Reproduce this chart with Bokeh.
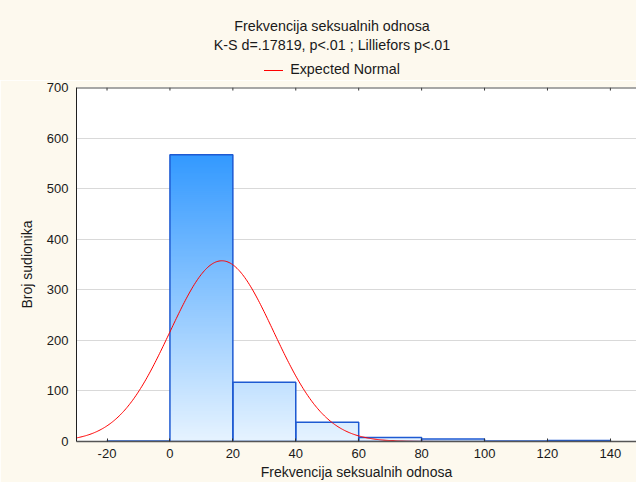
import numpy as np
from bokeh.plotting import figure
from bokeh.layouts import column
from bokeh.models import Range1d, FixedTicker, Span, Div
from bokeh.embed import file_html
from bokeh.resources import INLINE

# ---- data ----
bin_left = [-20, 0, 20, 40, 60, 80, 100, 120]
bin_right = [0, 20, 40, 60, 80, 100, 120, 140]
counts = [1, 567, 117, 38, 8, 5, 1, 2]
x_ticks = [-20, 0, 20, 40, 60, 80, 100, 120, 140]
x_tick_labels = ["-20", "0", "20", "40", "60", "80", "100", "120", "140"]
y_ticks = [0, 100, 200, 300, 400, 500, 600, 700]
normal_mean = 16.5
normal_sd = 16.5
bin_width = 20
n_obs = sum(counts)

title_main = "Frekvencija seksualnih odnosa"
title_sub = "K-S d=.17819, p<.01 ; Lilliefors p<.01"
legend_label = "Expected Normal"
x_label = "Frekvencija seksualnih odnosa"
y_label = "Broj sudionika"

FONT = "Liberation Sans"
CREAM = "#FDF9EE"
X0, X1, Y0, Y1 = -29.7, 148.3, 0, 700
W = 636
HEAD_H = 80
FIG_H = 402

# ---- header (titles + legend) ----
font_css = "font-family:'Liberation Sans',Arial,sans-serif;font-size:14.3px;color:#1a1a1a;"
html = (
    f'<div style="position:relative;width:{W}px;height:{HEAD_H}px;{font_css}">'
    f'<div style="position:absolute;left:28px;right:0;top:17px;text-align:center;line-height:18px;">{title_main}</div>'
    f'<div style="position:absolute;left:28px;right:0;top:36px;text-align:center;line-height:18px;">{title_sub}</div>'
    f'<div style="position:absolute;left:28px;right:0;top:60px;text-align:center;line-height:18px;">'
    f'<span style="display:inline-block;width:19px;height:0;border-top:1px solid #FF0000;vertical-align:middle;margin-right:7px;"></span>'
    f'{legend_label}</div>'
    '</div>'
)
head = Div(text=html, width=W, height=HEAD_H, margin=0,
           styles={"background-color": CREAM})

p = figure(width=W, height=FIG_H,
           x_range=Range1d(X0, X1), y_range=Range1d(Y0, Y1),
           output_backend="svg", toolbar_location=None,
           min_border_left=76, min_border_right=0,
           min_border_top=7, min_border_bottom=40, margin=0,
           background_fill_color="white", border_fill_color=CREAM,
           outline_line_color=None)

# gradient-filled bars (colour depends on height level)
c_low = np.array([230, 243, 255])
c_high = np.array([51, 153, 255])
top_val = max(counts)
step = 4.0
sl_l, sl_r, sl_b, sl_t, sl_c = [], [], [], [], []
for l, r, c in zip(bin_left, bin_right, counts):
    b = 0.0
    while b < c:
        t = min(b + step, c)
        frac = ((b + t) / 2) / top_val
        rgb = (c_low + (c_high - c_low) * frac).round().astype(int)
        sl_l.append(l); sl_r.append(r); sl_b.append(b); sl_t.append(min(t + 3, c))
        sl_c.append("#%02x%02x%02x" % tuple(rgb))
        b = t
p.quad(left=sl_l, right=sl_r, bottom=sl_b, top=sl_t, fill_color=sl_c, line_color=None)
p.quad(left=bin_left, right=bin_right, bottom=[0] * len(counts), top=counts,
       fill_color=None, line_color="#1E5AD2", line_width=1.5)

# expected normal curve
xs = np.linspace(X0, X1, 500)
ys = n_obs * bin_width / (normal_sd * np.sqrt(2 * np.pi)) * np.exp(-0.5 * ((xs - normal_mean) / normal_sd) ** 2)
curve = p.line(xs, ys, line_color="#FF0000", line_width=1)

# top frame line with inward ticks
p.add_layout(Span(location=Y1, dimension="width", line_color="#505050", line_width=2))
p.segment(x0=x_ticks, y0=[Y1] * len(x_ticks), x1=x_ticks, y1=[Y1 - 6] * len(x_ticks),
          line_color="#333333", line_width=1)

# axes
p.xaxis.ticker = FixedTicker(ticks=x_ticks)
p.xaxis.major_label_overrides = {t: s for t, s in zip(x_ticks, x_tick_labels)}
p.yaxis.ticker = FixedTicker(ticks=y_ticks)
for ax in (p.xaxis[0], p.yaxis[0]):
    ax.major_label_text_font = FONT
    ax.major_label_text_font_size = "13px"
    ax.major_label_text_color = "#1a1a1a"
    ax.axis_label_text_font = FONT
    ax.axis_label_text_font_size = "14px"
    ax.axis_label_text_font_style = "normal"
    ax.axis_label_text_color = "#1a1a1a"
    ax.minor_tick_line_color = None
    ax.major_tick_out = 0
p.xaxis.axis_label = x_label
p.yaxis.axis_label = y_label
p.xaxis.major_tick_in = 3
p.xaxis.major_tick_line_color = "#333333"
p.xaxis.axis_line_color = "#555555"
p.xaxis.axis_line_width = 1.5
p.xaxis.major_label_standoff = 7
p.xaxis.axis_label_standoff = 3
p.yaxis.major_tick_line_color = None
p.yaxis.axis_line_color = "#202020"
p.yaxis.major_label_standoff = 8
p.yaxis.axis_label_standoff = 9

p.xgrid.visible = False
p.ygrid.grid_line_color = "#D9D9D9"

layout = column(head, p, spacing=0, margin=0)
open("out.html", "w").write(file_html(layout, INLINE))
